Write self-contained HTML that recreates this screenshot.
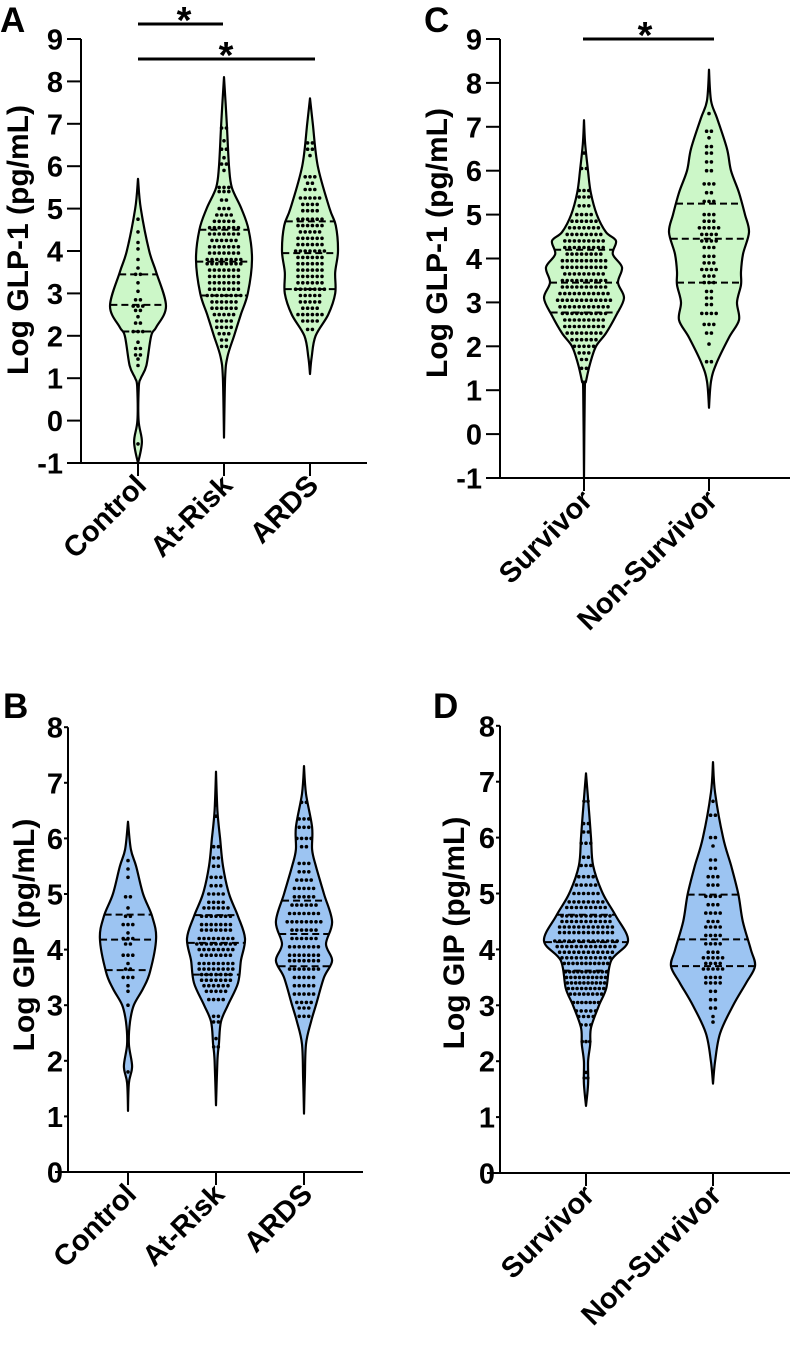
<!DOCTYPE html>
<html><head><meta charset="utf-8"><style>
html,body{margin:0;padding:0;background:#fff;}
svg{display:block;font-family:"Liberation Sans",Arial,sans-serif;font-weight:bold;}
</style></head><body>
<svg id="fig" width="800" height="1354" viewBox="0 0 800 1354" xmlns="http://www.w3.org/2000/svg"></svg>
<script>
// ---------- DATA ----------
const catsAB = ["Control","At-Risk","ARDS"];
const catsCD = ["Survivor","Non-Survivor"];
const ticksGLP = [9,8,7,6,5,4,3,2,1,0,-1];
const ticksGIP = [8,7,6,5,4,3,2,1,0];

// violin density profiles: [value, relative density]
const profA_control = [[5.7,0],[5,.1],[4,.4],[3.5,.65],[2.7,1],[2.2,.65],[2,.47],[1.3,.3],[1,.1],[.8,.03],[0,.02],[-.5,.14],[-1,0]];
const profA_atrisk  = [[8.1,0],[7,.1],[6,.18],[5.5,.28],[5,.62],[4.5,.88],[3.8,1],[3,.85],[2.5,.6],[2,.36],[1.5,.12],[1,.04],[-.4,0]];
const profA_ards    = [[7.6,0],[7,.1],[6,.28],[5,.7],[4.6,.92],[4,1],[3.5,.9],[3,.9],[2.5,.65],[2,.2],[1.5,.06],[1.1,0]];
const profC_surv    = [[7.15,0],[6.6,.03],[6,.1],[5.5,.17],[5,.32],[4.6,.55],[4.4,.8],[4.1,.72],[3.8,.95],[3.45,.85],[3.1,1],[2.7,.8],[2.3,.55],[2,.3],[1.6,.15],[1.2,.05],[1,.02],[-1,0]];
const profC_nonsurv = [[8.3,0],[7.6,.05],[7.2,.2],[6.5,.45],[6,.55],[5.5,.75],[5,.9],[4.6,1],[4.1,.85],[3.7,.8],[3.4,.8],[3,.7],[2.6,.75],[2.2,.5],[1.6,.18],[1.2,.05],[.6,0]];
const profB_control = [[6.3,0],[5.8,.1],[5.5,.28],[5,.52],[4.6,.83],[4.2,.97],[3.6,.76],[3.3,.52],[3,.2],[2.7,.07],[2.3,.03],[1.9,.14],[1.6,.03],[1.1,0]];
const profB_atrisk  = [[7.2,0],[6.5,.05],[6,.14],[5.5,.24],[5,.45],[4.6,.76],[4.2,1],[3.8,.86],[3.4,.76],[3,.41],[2.7,.17],[2.3,.1],[2,.05],[1.2,0]];
const profB_ards    = [[7.3,0],[6.8,.07],[6.2,.28],[5.8,.28],[5.5,.41],[5,.69],[4.5,.97],[4.1,.76],[3.8,.97],[3.5,.69],[3,.41],[2.7,.24],[2.3,.07],[1.7,.03],[1.05,0]];
const profD_surv    = [[7.15,0],[6.5,.07],[6,.12],[5.5,.17],[5,.4],[4.6,.71],[4.15,1],[3.8,.6],[3.3,.48],[3,.31],[2.6,.12],[2.3,.1],[2,.05],[1.6,.05],[1.2,0]];
const profD_nonsurv = [[7.35,0],[6.8,.05],[6,.24],[5.5,.43],[5,.6],[4.5,.71],[4,.9],[3.7,1],[3.4,.79],[3,.48],[2.5,.17],[2,.05],[1.6,0]];

// quartiles [Q3, median, Q1]
const qA = [[3.45,2.73,2.1],[4.5,3.75,2.95],[4.7,3.95,3.1]];
const qC = [[4.2,3.45,2.77],[5.25,4.45,3.45]];
const qB = [[4.63,4.18,3.63],[4.62,4.12,3.55],[4.88,4.28,3.7]];
const qD = [[4.62,4.13,3.62],[4.98,4.18,3.7]];

// dot rows: [value, count]
const dA_control = [[4.75,1],[4.45,1],[4.2,1],[4.05,1],[3.8,1],[3.6,1],[3.45,2],[3.25,1],[3.05,1],[2.85,2],[2.7,3],[2.6,2],[2.45,1],[2.3,2],[2.1,3],[1.85,1],[1.7,2],[1.55,2],[1.45,1],[1.3,1],[-0.55,1]];
const dA_atrisk = [[6.9,2],[6.6,1],[6.4,2],[6.2,1],[6.05,2],[5.9,1],[5.5,3],[5.4,3],[5.2,2],[5.0,3],[4.85,4],[4.7,5],[4.55,7],[4.4,7],[4.25,6],[4.1,7],[3.95,7],[3.8,8],[3.7,8],[3.55,7],[3.4,7],[3.25,7],[3.1,7],[2.95,8],[2.8,6],[2.65,6],[2.5,5],[2.35,4],[2.2,4],[2.05,3],[1.9,2],[1.75,2]];
const dA_ards = [[6.55,2],[6.4,2],[6.25,1],[5.75,3],[5.6,2],[5.45,3],[5.25,5],[5.1,4],[4.95,4],[4.75,6],[4.6,6],[4.45,5],[4.3,6],[4.15,6],[4.0,7],[3.85,6],[3.7,6],[3.55,6],[3.4,6],[3.25,6],[3.1,7],[2.95,5],[2.8,5],[2.65,4],[2.5,6],[2.35,4],[2.15,2]];
const dC_surv = [[6.4,1],[6.05,2],[5.55,3],[5.4,3],[5.2,3],[5.0,4],[4.85,6],[4.7,7],[4.55,8],[4.4,9],[4.25,9],[4.1,8],[3.95,10],[3.8,10],[3.65,9],[3.5,10],[3.35,10],[3.2,11],[3.05,12],[2.9,11],[2.75,10],[2.6,9],[2.45,9],[2.3,8],[2.15,6],[2.0,5],[1.85,3],[1.7,2],[1.5,2]];
const dC_nonsurv = [[7.3,1],[6.9,2],[6.75,1],[6.55,2],[6.4,2],[6.2,2],[6.0,2],[5.7,3],[5.5,2],[5.3,3],[5.0,3],[4.85,3],[4.7,5],[4.55,4],[4.4,4],[4.25,3],[4.05,3],[3.9,3],[3.75,4],[3.6,3],[3.45,3],[3.25,2],[3.1,2],[2.95,2],[2.75,4],[2.5,3],[2.3,2],[2.05,1],[1.65,2]];
const dB_control = [[5.6,1],[5.45,1],[5.3,1],[4.95,2],[4.75,1],[4.6,2],[4.45,3],[4.3,1],[4.2,3],[4.1,2],[3.9,3],[3.75,1],[3.65,2],[3.5,3],[3.35,1],[3.25,1],[3.0,1],[1.8,1]];
const dB_atrisk = [[6.6,1],[6.4,1],[5.85,2],[5.65,2],[5.5,2],[5.3,3],[5.15,3],[5.0,4],[4.85,4],[4.75,6],[4.6,7],[4.45,7],[4.35,7],[4.2,8],[4.1,9],[4.0,8],[3.9,7],[3.75,8],[3.65,8],[3.55,7],[3.45,7],[3.35,6],[3.25,5],[3.1,4],[2.8,2],[2.7,2],[2.4,1],[2.25,2]];
const dB_ards = [[6.65,2],[6.35,3],[6.2,3],[6.0,4],[5.85,2],[5.55,3],[5.4,3],[5.25,4],[5.1,5],[4.95,5],[4.8,6],[4.65,7],[4.5,8],[4.35,6],[4.2,6],[4.05,7],[3.9,7],[3.8,7],[3.65,7],[3.5,5],[3.35,5],[3.2,5],[3.05,4],[2.95,3],[2.8,3]];
const dD_surv = [[6.65,2],[6.25,2],[6.1,2],[5.9,3],[5.65,2],[5.5,3],[5.3,4],[5.15,5],[5.0,6],[4.85,8],[4.75,9],[4.6,11],[4.5,11],[4.4,12],[4.3,12],[4.15,14],[4.05,13],[3.95,12],[3.85,11],[3.75,11],[3.6,11],[3.5,10],[3.4,10],[3.3,9],[3.2,8],[3.05,7],[2.9,5],[2.8,4],[2.65,3],[2.35,3],[1.8,1],[1.7,2]];
const dD_nonsurv = [[6.65,1],[6.4,2],[6.0,2],[5.85,1],[5.6,2],[5.45,2],[5.3,3],[5.15,3],[4.95,4],[4.8,3],[4.65,4],[4.5,3],[4.4,4],[4.25,4],[4.1,4],[3.95,3],[3.85,5],[3.75,4],[3.65,5],[3.5,4],[3.4,4],[3.25,2],[3.1,2],[2.95,2],[2.8,1],[2.7,1]];

// ---------- DRAW ----------
const NS = "http://www.w3.org/2000/svg";
const svg = document.getElementById("fig");
function mk(tag, attrs, parent){
  const e = document.createElementNS(NS, tag);
  for (const k in attrs) e.setAttribute(k, attrs[k]);
  (parent||svg).appendChild(e);
  return e;
}
function widthAt(prof, v){
  for (let i=0;i<prof.length-1;i++){
    const a=prof[i], b=prof[i+1];
    if (v<=a[0] && v>=b[0]){ const t=(a[0]-v)/(a[0]-b[0]); return a[1]+(b[1]-a[1])*t; }
  }
  return 0;
}
function smoothPath(pts){
  let d = "M"+pts[0][0]+","+pts[0][1];
  for (let i=0;i<pts.length-1;i++){
    const p0=pts[Math.max(0,i-1)], p1=pts[i], p2=pts[i+1], p3=pts[Math.min(pts.length-1,i+2)];
    const c1=[p1[0]+(p2[0]-p0[0])/6, p1[1]+(p2[1]-p0[1])/6];
    const c2=[p2[0]-(p3[0]-p1[0])/6, p2[1]-(p3[1]-p1[1])/6];
    d += " C"+c1[0].toFixed(1)+","+c1[1].toFixed(1)+" "+c2[0].toFixed(1)+","+c2[1].toFixed(1)+" "+p2[0].toFixed(1)+","+p2[1].toFixed(1);
  }
  return d;
}

function panel(cfg){
  const g = mk("g", {});
  
  
  const y = v => cfg.y0 - (v - cfg.vmin) * cfg.unit;
  const L = mk("text", {x:cfg.letterX, y:cfg.letterY, "font-size":35}, g);
  L.textContent = cfg.letter;
  
  
  const ya = mk("line", {x1:cfg.ax, x2:cfg.ax, y1:y(cfg.ticks[0]), y2:cfg.y0, stroke:"#000","stroke-width":2}, g);
  
  
  cfg.ticks.forEach(t=>{
    const tk = mk("line", {x1:cfg.ax-cfg.tickLen, x2:cfg.ax, y1:y(t), y2:y(t), stroke:"#000","stroke-width":2}, g);
    
    
    const tl = mk("text", {x:cfg.ax-cfg.labGap, y:y(t)+10.5, "font-size":29, "text-anchor":"end"}, g);
    tl.textContent = String(t);
    
    
  });
  const yt = mk("text", {x:0, y:0, "font-size":30, "text-anchor":"middle", transform:"translate("+cfg.titleX+","+cfg.titleY+") rotate(-90)"}, g);
  yt.textContent = cfg.title;
  
  
  const xa = mk("line", {x1:cfg.xaStart, x2:cfg.xaEnd, y1:cfg.y0, y2:cfg.y0, stroke:"#000","stroke-width":2}, g);
  
  
  cfg.cats.forEach((c,i)=>{
    const cx = cfg.centers[i];
    const tk = mk("line", {x1:cx, x2:cx, y1:cfg.y0, y2:cfg.y0+13, stroke:"#000","stroke-width":2}, g);
    
    
    const tl = mk("text", {x:0, y:0, "font-size":29, "text-anchor":"end", transform:"translate("+(cx+10)+","+(cfg.y0+24)+") rotate(-45)"}, g);
    tl.textContent = c;
    
    
    const prof = cfg.profs[i];
    const right = prof.map(p=>[cx + p[1]*cfg.maxW, y(p[0])]);
    const left = prof.slice().reverse().map(p=>[cx - p[1]*cfg.maxW, y(p[0])]);
    const d = smoothPath(right) + " " + smoothPath(left).replace("M","L") + " Z";
    const vp = mk("path", {d:d, fill:cfg.fill, stroke:"#000", "stroke-width":2.2, "stroke-linejoin":"round"}, g);
    
    
    cfg.quarts[i].forEach((q,k)=>{
      const w = widthAt(prof,q)*cfg.maxW;
      const ql = mk("line", {x1:cx-w, x2:cx+w, y1:y(q), y2:y(q), stroke:"#000","stroke-width":2,"stroke-dasharray":"7,4"}, g);
      
      
    });
    cfg.dots[i].forEach(r=>{
      const v=r[0], n=r[1];
      const w = Math.max(1, widthAt(prof,v)*cfg.maxW*0.88);
      const sp = n>1 ? Math.min(4.8, 2*w/(n-1)) : 0;
      for (let j=0;j<n;j++){
        const dx = (j-(n-1)/2)*sp;
        const dt = mk("circle", {cx:(cx+dx).toFixed(1), cy:y(v).toFixed(1), r:1.8, fill:"#000"}, g);
        
        
      }
    });
  });
  (cfg.sig||[]).forEach(s=>{
    const b = mk("line", {x1:s[0], x2:s[1], y1:s[2], y2:s[2], stroke:"#000","stroke-width":3}, g);
    
    
    const st = mk("text", {x:s[3], y:s[2]+9, "font-size":38, "text-anchor":"middle"}, g);
    st.textContent = "*";
    
    
  });
}

panel({name:"panel-a-glp1-groups", letter:"A", letterX:0, letterY:32, ax:81, y0:463, vmin:-1, unit:42.4,
  ticks:ticksGLP, tickLen:14, labGap:18, title:"Log GLP-1 (pg/mL)", titleX:28, titleY:240, xaStart:67, xaEnd:367,
  cats:catsAB, centers:[138,224,310], maxW:28, fill:"#ccf7c8",
  profs:[profA_control,profA_atrisk,profA_ards], quarts:qA, dots:[dA_control,dA_atrisk,dA_ards],
  sig:[[138,223,24,184],[138,315,59,226]]});
panel({name:"panel-c-glp1-outcome", letter:"C", letterX:424, letterY:32, ax:500, y0:478, vmin:-1, unit:43.9,
  ticks:ticksGLP, tickLen:14, labGap:18, title:"Log GLP-1 (pg/mL)", titleX:447, titleY:243, xaStart:486, xaEnd:790,
  cats:catsCD, centers:[584,709], maxW:40, fill:"#ccf7c8",
  profs:[profC_surv,profC_nonsurv], quarts:qC, dots:[dC_surv,dC_nonsurv],
  sig:[[583,714,39,645]]});
panel({name:"panel-b-gip-groups", letter:"B", letterX:3, letterY:718, ax:68, y0:1172, vmin:0, unit:55.6,
  ticks:ticksGIP, tickLen:4, labGap:5, title:"Log GIP (pg/mL)", titleX:34, titleY:935, xaStart:55, xaEnd:363,
  cats:catsAB, centers:[128,216,304], maxW:29, fill:"#9cc4f2",
  profs:[profB_control,profB_atrisk,profB_ards], quarts:qB, dots:[dB_control,dB_atrisk,dB_ards]});
panel({name:"panel-d-gip-outcome", letter:"D", letterX:433, letterY:718, ax:500, y0:1173, vmin:0, unit:55.9,
  ticks:ticksGIP, tickLen:4, labGap:5, title:"Log GIP (pg/mL)", titleX:464, titleY:933, xaStart:487, xaEnd:790,
  cats:catsCD, centers:[586,713], maxW:42, fill:"#9cc4f2",
  profs:[profD_surv,profD_nonsurv], quarts:qD, dots:[dD_surv,dD_nonsurv]});
</script>
</body></html>
